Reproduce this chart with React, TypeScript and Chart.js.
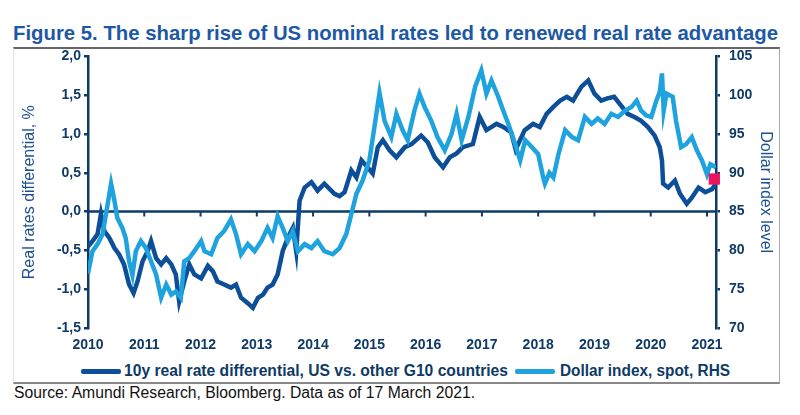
import React, { useEffect, useLayoutEffect, useRef } from "react";
import { Chart, registerables } from "chart.js";

Chart.register(...registerables);

// ---- data ----
const YEARS = [2010, 2011, 2012, 2013, 2014, 2015, 2016, 2017, 2018, 2019, 2020, 2021];
const LEFT_TICKS = [-1.5, -1, -0.5, 0, 0.5, 1, 1.5, 2];
const RIGHT_TICKS = [70, 75, 80, 85, 90, 95, 100, 105];

const RATE_LABEL = "10y real rate differential, US vs. other G10 countries";
const DXY_LABEL = "Dollar index, spot, RHS";

const RATE_X = [
  2010.0, 2010.08, 2010.17, 2010.23, 2010.29, 2010.38, 2010.47, 2010.55, 2010.64, 2010.73, 2010.81, 2010.88, 2010.97,
  2011.06, 2011.12, 2011.21, 2011.3, 2011.39, 2011.48, 2011.56, 2011.62, 2011.71, 2011.8, 2011.89, 2012.01,
  2012.13, 2012.22, 2012.3, 2012.42, 2012.54, 2012.63, 2012.72, 2012.84, 2012.93, 2013.02, 2013.11, 2013.19,
  2013.28, 2013.37, 2013.46, 2013.55, 2013.64, 2013.7, 2013.76, 2013.85, 2013.97, 2014.08, 2014.2, 2014.38,
  2014.47, 2014.56, 2014.68, 2014.77, 2014.86, 2014.97, 2015.06, 2015.15, 2015.24, 2015.36, 2015.48, 2015.63,
  2015.75, 2015.92, 2016.04, 2016.16, 2016.31, 2016.43, 2016.55, 2016.66, 2016.84, 2016.96, 2017.08, 2017.26,
  2017.38, 2017.52, 2017.6, 2017.76, 2017.91, 2018.03, 2018.15, 2018.27, 2018.39, 2018.51, 2018.62, 2018.71,
  2018.77, 2018.89, 2019.0, 2019.12, 2019.23, 2019.35, 2019.47, 2019.59, 2019.71, 2019.83, 2019.95, 2020.07,
  2020.16, 2020.2, 2020.22, 2020.31, 2020.43, 2020.52, 2020.64, 2020.73, 2020.85, 2020.97, 2021.09, 2021.16,
];
const RATE_Y = [
  -0.45, -0.38, -0.29, -0.03, -0.25, -0.34, -0.47, -0.55, -0.68, -0.94, -1.05, -0.9, -0.64,
  -0.51, -0.38, -0.6, -0.68, -0.6, -0.68, -0.81, -1.16, -0.9, -0.68, -0.81, -0.86,
  -0.7, -0.77, -0.9, -0.94, -0.98, -0.94, -1.11, -1.18, -1.24, -1.11, -1.07, -0.98,
  -0.94, -0.81, -0.51, -0.34, -0.21, -0.51, 0.14, 0.31, 0.38, 0.27, 0.36, 0.23,
  0.2, 0.25, 0.53, 0.44, 0.66, 0.57, 0.49, 0.83, 0.92, 0.79, 0.7, 0.83,
  0.87, 0.98, 0.89, 0.7, 0.57, 0.7, 0.75, 0.83, 0.87, 1.22, 1.05, 1.13,
  1.09, 1.02, 0.8, 1.05, 1.13, 1.09, 1.26, 1.35, 1.43, 1.48, 1.43, 1.54,
  1.61, 1.69, 1.52, 1.43, 1.46, 1.48, 1.37, 1.26, 1.22, 1.17, 1.09, 0.98,
  0.83, 0.66, 0.36, 0.31, 0.4, 0.23, 0.1, 0.18, 0.31, 0.25, 0.29, 0.36,
];

const DXY_X = [
  2010.0, 2010.08, 2010.17, 2010.26, 2010.35, 2010.41, 2010.47, 2010.52, 2010.61, 2010.67, 2010.73, 2010.79, 2010.85,
  2010.94, 2011.03, 2011.12, 2011.21, 2011.3, 2011.39, 2011.48, 2011.56, 2011.65, 2011.71, 2011.8, 2011.89,
  2012.01, 2012.07, 2012.19, 2012.3, 2012.42, 2012.54, 2012.63, 2012.72, 2012.84, 2012.96, 2013.08, 2013.19,
  2013.28, 2013.37, 2013.46, 2013.55, 2013.64, 2013.73, 2013.85, 2013.97, 2014.08, 2014.2, 2014.35, 2014.47,
  2014.59, 2014.68, 2014.77, 2014.88, 2015.0, 2015.09, 2015.18, 2015.27, 2015.39, 2015.48, 2015.59, 2015.68,
  2015.8, 2015.89, 2015.98, 2016.1, 2016.21, 2016.34, 2016.46, 2016.55, 2016.64, 2016.76, 2016.88, 2016.99,
  2017.08, 2017.17, 2017.29, 2017.38, 2017.47, 2017.59, 2017.68, 2017.77, 2017.89, 2018.0, 2018.09, 2018.12,
  2018.2, 2018.27, 2018.36, 2018.48, 2018.6, 2018.71, 2018.83, 2018.95, 2019.06, 2019.18, 2019.3, 2019.42,
  2019.54, 2019.66, 2019.75, 2019.83, 2019.92, 2020.01, 2020.1, 2020.16, 2020.2, 2020.23, 2020.28, 2020.39,
  2020.45, 2020.54, 2020.63, 2020.73, 2020.82, 2020.91, 2021.0, 2021.06, 2021.16,
];
const DXY_Y = [
  77.0, 79.9, 80.8, 82.1, 86.0, 88.6, 86.4, 84.2, 82.9, 81.6, 78.6, 76.8, 79.9,
  81.2, 80.3, 78.6, 76.9, 73.9, 75.6, 74.3, 74.7, 73.9, 78.6, 79.0, 79.9,
  81.2, 79.9, 79.5, 81.6, 82.5, 84.0, 82.1, 79.5, 80.8, 79.9, 81.2, 82.9,
  81.6, 84.4, 82.9, 81.2, 82.5, 79.9, 80.8, 80.3, 81.2, 79.9, 79.5, 80.3,
  82.1, 84.7, 87.3, 89.0, 91.6, 95.9, 100.3, 96.7, 94.6, 97.6, 95.5, 94.2,
  98.0, 100.2, 98.5, 96.7, 94.6, 92.9, 95.0, 97.6, 94.2, 97.2, 101.1, 103.2,
  100.2, 101.9, 99.8, 98.0, 96.3, 93.7, 91.6, 94.2, 93.3, 92.4, 89.4, 88.6,
  90.0, 89.4, 92.4, 95.5, 94.6, 94.2, 97.2, 96.3, 97.0, 96.3, 97.6, 97.2,
  98.0, 98.5, 99.3, 98.0, 97.4, 97.2, 99.3, 100.4, 102.8, 98.0, 100.2, 99.8,
  96.7, 93.3, 93.7, 94.6, 92.9, 91.6, 89.8, 91.1, 90.7,
];

const MARKER_X = [2021.13];
const MARKER_Y = [89.2];

// ---- styles ----
const DARK = "#0c4e98";
const LIGHT = "#1fa3de";
const PINK = "#ea1461";
const NAVY = "#0e3a66";
const TITLE_BLUE = "#1d58a5";
const SANS = '"Liberation Sans", Arial, sans-serif';

const fmtComma = (v: number) => v.toFixed(1).replace(".", ",");

const zeroLinePlugin = {
  id: "zeroLine",
  beforeDatasetsDraw(chart: any) {
    const { ctx, chartArea, scales } = chart;
    const y0 = scales.y.getPixelForValue(0);
    ctx.save();
    ctx.strokeStyle = NAVY;
    ctx.lineWidth = 2.5;
    ctx.beginPath();
    ctx.moveTo(chartArea.left, y0);
    ctx.lineTo(chartArea.right, y0);
    ctx.stroke();
    ctx.lineWidth = 2;
    ctx.beginPath();
    YEARS.slice(1).forEach((yr) => {
      const x = scales.x.getPixelForValue(yr);
      ctx.moveTo(x, y0);
      ctx.lineTo(x, y0 + 5);
    });
    ctx.stroke();
    ctx.restore();
  },
};

// Text condensed horizontally to a target width (emulates a narrow font)
function FitText(props: { text: string; left: number; top: number; width: number; style: React.CSSProperties }) {
  const ref = useRef<HTMLSpanElement | null>(null);
  useLayoutEffect(() => {
    const el = ref.current;
    if (!el) return;
    el.style.transform = "none";
    const natural = el.getBoundingClientRect().width;
    if (natural > 0) el.style.transform = `scaleX(${props.width / natural})`;
  });
  return (
    <span
      ref={ref}
      style={{
        position: "absolute",
        left: props.left,
        top: props.top,
        whiteSpace: "nowrap",
        transformOrigin: "0 0",
        display: "inline-block",
        ...props.style,
      }}
    >
      {props.text}
    </span>
  );
}

export default function App() {
  const ref = useRef<HTMLCanvasElement | null>(null);

  useEffect(() => {
    document.body.style.margin = "0";
    const canvas = ref.current;
    if (!canvas) return;
    const tickFont = { family: SANS, weight: "bold" as const, size: 14 };
    const chart = new Chart(canvas, {
      type: "line",
      data: {
        datasets: [
          {
            label: RATE_LABEL,
            data: RATE_X.map((x, i) => ({ x, y: RATE_Y[i] })),
            borderColor: DARK,
            backgroundColor: DARK,
            borderWidth: 4.5,
            pointRadius: 0,
            yAxisID: "y",
            order: 2,
            tension: 0,
          },
          {
            label: DXY_LABEL,
            data: DXY_X.map((x, i) => ({ x, y: DXY_Y[i] })),
            borderColor: LIGHT,
            backgroundColor: LIGHT,
            borderWidth: 4.5,
            pointRadius: 0,
            yAxisID: "y1",
            order: 1,
            tension: 0,
          },
          {
            label: "marker",
            data: MARKER_X.map((x, i) => ({ x, y: MARKER_Y[i] })),
            showLine: false,
            pointStyle: "rect",
            pointRadius: 8,
            pointBackgroundColor: PINK,
            pointBorderWidth: 0,
            backgroundColor: PINK,
            borderColor: PINK,
            yAxisID: "y1",
            order: 0,
            clip: false,
          },
        ],
      },
      options: {
        animation: false,
        responsive: false,
        maintainAspectRatio: false,
        layout: { padding: { top: 0, left: 0, right: 0, bottom: 0 } },
        scales: {
          x: {
            type: "linear",
            min: 2010,
            max: 2021.16,
            afterBuildTicks: (s: any) => {
              s.ticks = YEARS.map((v) => ({ value: v }));
            },
            afterFit: (s: any) => {
              s.height = 28;
            },
            grid: { display: false, drawTicks: false },
            border: { display: false },
            ticks: {
              padding: 9,
              color: NAVY,
              font: tickFont,
              maxRotation: 0,
              autoSkip: false,
              callback: (v: any) => String(v),
            },
          },
          y: {
            position: "left",
            min: -1.5,
            max: 2,
            afterBuildTicks: (s: any) => {
              s.ticks = LEFT_TICKS.map((v) => ({ value: v }));
            },
            afterFit: (s: any) => {
              s.width = 74;
            },
            grid: { drawOnChartArea: false, tickLength: 4, color: NAVY, lineWidth: 2.5 },
            border: { color: NAVY, width: 2.5 },
            ticks: { padding: 3, color: NAVY, font: tickFont, callback: (v: any) => fmtComma(Number(v)) },
            title: {
              display: true,
              text: "Real rates differential, %",
              color: "#1b4f8f",
              font: { family: SANS, size: 16 },
              padding: { top: 6, bottom: 4 },
            },
          },
          y1: {
            position: "right",
            min: 70,
            max: 105,
            afterBuildTicks: (s: any) => {
              s.ticks = RIGHT_TICKS.map((v) => ({ value: v }));
            },
            afterFit: (s: any) => {
              s.width = 64;
            },
            grid: { drawOnChartArea: false, tickLength: 4, color: NAVY, lineWidth: 2.5 },
            border: { color: NAVY, width: 2.5 },
            ticks: { padding: 9, color: NAVY, font: tickFont, callback: (v: any) => String(v) },
            title: {
              display: true,
              text: "Dollar index level",
              color: "#1b4f8f",
              font: { family: SANS, size: 16 },
              padding: { top: 5, bottom: 4 },
            },
          },
        },
        plugins: {
          legend: { display: false },
          tooltip: { enabled: false },
        },
      } as any,
      plugins: [zeroLinePlugin],
    });
    return () => chart.destroy();
  }, []);

  const legendText: React.CSSProperties = {
    fontFamily: SANS,
    fontWeight: "bold",
    fontSize: 16,
    lineHeight: "18px",
    color: NAVY,
  };

  return (
    <div style={{ position: "relative", width: 800, height: 415, background: "#fff", overflow: "hidden" }}>
      <FitText
        text="Figure 5. The sharp rise of US nominal rates led to renewed real rate advantage"
        left={13}
        top={21}
        width={765}
        style={{ fontFamily: SANS, fontWeight: "bold", fontSize: 21, lineHeight: "24px", color: TITLE_BLUE }}
      />
      <div
        style={{
          position: "absolute",
          left: 13,
          top: 47,
          width: 765,
          height: 333,
          borderTop: "2px solid #666",
          borderRight: "1px solid #aaa",
          borderBottom: "2px solid #888",
          borderLeft: "1px solid #e4e4e4",
        }}
      />
      <canvas
        ref={ref}
        width={766}
        height={317}
        style={{ position: "absolute", left: 14, top: 39, width: 766, height: 317 }}
      />
      {/* legend */}
      <div style={{ position: "absolute", left: 81, top: 369, width: 40, height: 5, background: DARK, borderRadius: 2 }} />
      <FitText text={RATE_LABEL} left={124} top={362} width={384} style={legendText} />
      <div style={{ position: "absolute", left: 515, top: 369, width: 40, height: 5, background: LIGHT, borderRadius: 2 }} />
      <FitText text={DXY_LABEL} left={560} top={362} width={170} style={legendText} />
      <FitText
        text="Source: Amundi Research, Bloomberg. Data as of 17 March 2021."
        left={14}
        top={383}
        width={461}
        style={{ fontFamily: SANS, fontSize: 16, lineHeight: "20px", color: "#111" }}
      />
    </div>
  );
}
